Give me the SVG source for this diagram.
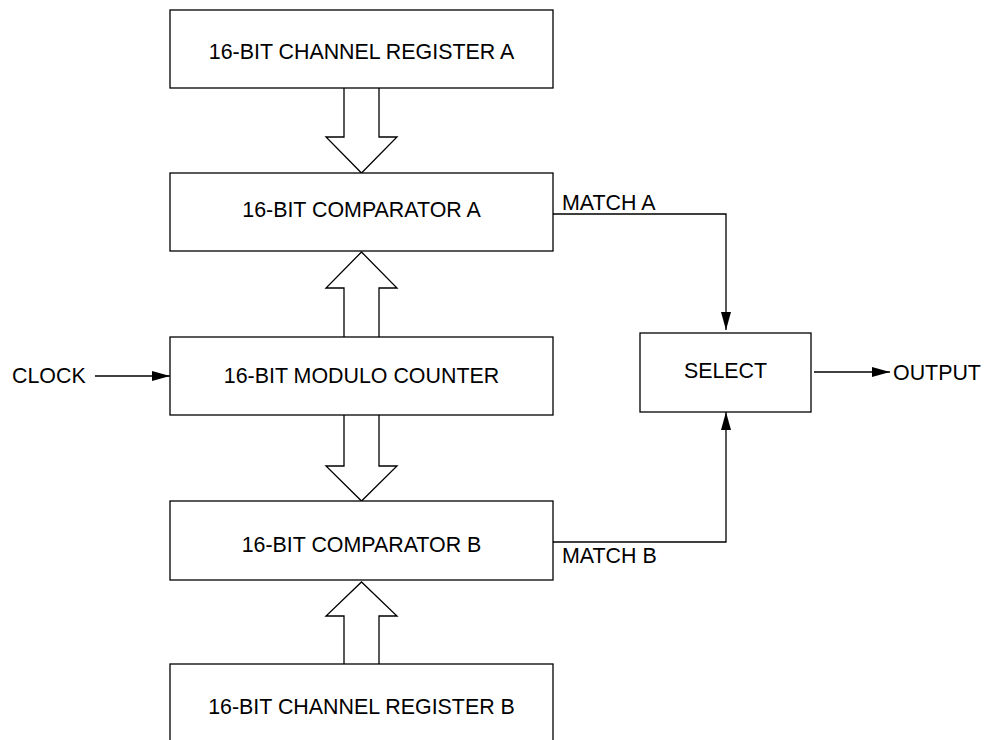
<svg xmlns="http://www.w3.org/2000/svg" width="991" height="740" viewBox="0 0 991 740">
<defs>
<style>
.box{fill:#fff;stroke:#000;stroke-width:1.3}
.bus{fill:#fff;stroke:#000;stroke-width:1.3;stroke-linejoin:miter}
.wire{fill:none;stroke:#000;stroke-width:1.3}
text{font-family:"Liberation Sans",Arial,sans-serif;font-size:21.4px;fill:#000}
.c{text-anchor:middle}
</style>
<marker id="ah" markerWidth="18" markerHeight="10" refX="18" refY="5" orient="auto" markerUnits="userSpaceOnUse">
<path d="M0,0 L18,5 L0,10 Z" fill="#000"/>
</marker>
</defs>
<rect width="991" height="740" fill="#fff"/>
<g id="connectors">
<path class="bus" d="M344,88 L344,137 L326,137 L361.5,173 L397,137 L379,137 L379,88"/>
<path class="bus" d="M344,337 L344,288 L326,288 L361.5,252 L397,288 L379,288 L379,337"/>
<path class="bus" d="M344,415 L344,466 L326,466 L361.5,501 L397,466 L379,466 L379,415"/>
<path class="bus" d="M344,665 L344,616 L326,616 L361.5,582 L397,616 L379,616 L379,665"/>
<line class="wire" x1="95" y1="376" x2="170" y2="376" marker-end="url(#ah)"/>
<polyline class="wire" points="553,214 726,214 726,330" marker-end="url(#ah)"/>
<polyline class="wire" points="553,542 726,542 726,412" marker-end="url(#ah)"/>
<line class="wire" x1="814" y1="372" x2="890" y2="372" marker-end="url(#ah)"/>
<text x="562" y="210">MATCH A</text>
<text x="562" y="563">MATCH B</text>
<text x="12" y="383">CLOCK</text>
<text x="893" y="380">OUTPUT</text>
</g>
<g id="regA"><rect class="box" x="170" y="10" width="383" height="78"/><text class="c" x="361.5" y="59">16-BIT CHANNEL REGISTER A</text></g>
<g id="compA"><rect class="box" x="170" y="173" width="383" height="78"/><text class="c" x="361.5" y="217">16-BIT COMPARATOR A</text></g>
<g id="counter"><rect class="box" x="170" y="337" width="383" height="78"/><text class="c" x="361.5" y="383">16-BIT MODULO COUNTER</text></g>
<g id="compB"><rect class="box" x="170" y="501" width="383" height="79"/><text class="c" x="361.5" y="552">16-BIT COMPARATOR B</text></g>
<g id="regB"><rect class="box" x="170" y="664" width="383" height="80"/><text class="c" x="361.5" y="714">16-BIT CHANNEL REGISTER B</text></g>
<g id="select"><rect class="box" x="640" y="333" width="171" height="79"/><text class="c" x="725.5" y="378">SELECT</text></g>
</svg>
